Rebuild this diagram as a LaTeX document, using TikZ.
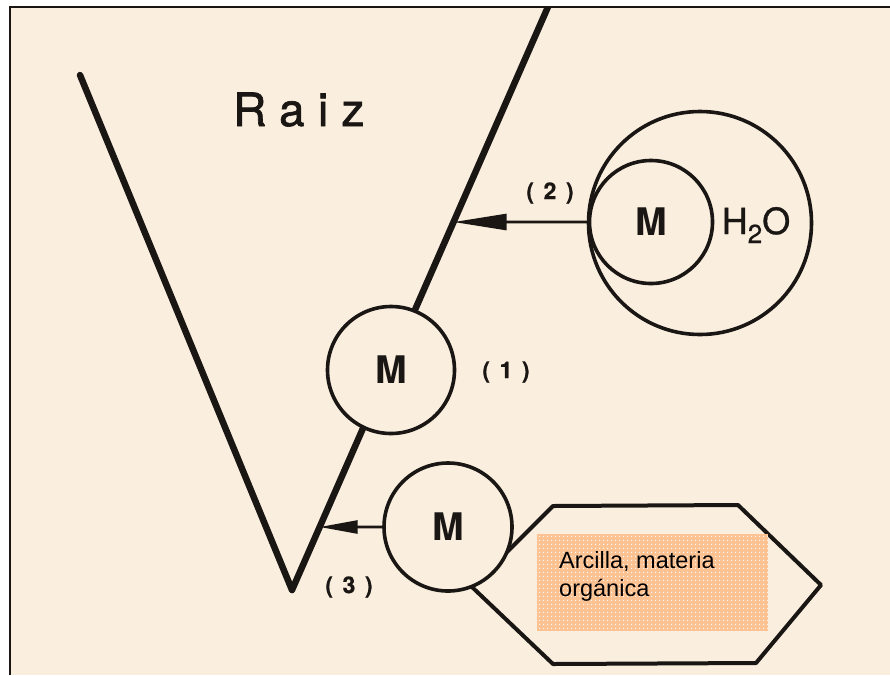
\documentclass[tikz,border=0pt]{standalone}
\usepackage{fontspec}
\setmainfont{TeX Gyre Heros}
\newfontfamily\raizfont[LetterSpace=29,FakeBold=1.4]{TeX Gyre Heros}
\newfontfamily\labfont[LetterSpace=14,FakeBold=0.6]{TeX Gyre Heros}
\newfontfamily\waterfont[FakeBold=0.8]{TeX Gyre Heros}
\newfontfamily\boxfont{Liberation Sans}
\usetikzlibrary{arrows.meta,patterns.meta,calc}
\definecolor{bg}{RGB}{250,238,222}
\definecolor{ink}{RGB}{26,22,20}
\definecolor{claycol}{RGB}{252,194,146}
\tikzdeclarepattern{
  name=wdots,
  type=uncolored,
  bounding box={(-2pt,-2pt) and (2pt,2pt)},
  tile size={(4pt,4pt)},
  code={\pgfpathcircle{\pgfpointorigin}{0.75pt}\pgfusepath{fill}}
}
\begin{document}
\begin{tikzpicture}[x=1pt,y=-1pt,
  arm/.style={draw=ink,line width=6.5pt,line cap=round,line join=round},
  ring/.style={circle,draw=ink,line width=3.6pt,fill=bg,inner sep=0pt},
  mlabel/.style={font=\fontsize{38}{44}\selectfont\bfseries,text=ink},
  ptr/.style={draw=ink,line width=2.6pt},
  numlab/.style={font=\labfont\bfseries\fontsize{23}{26}\selectfont,text=ink},
]
\useasboundingbox (0,0) rectangle (890,675);
\fill[white] (0,0) rectangle (890,675);
\fill[bg] (10,7) rectangle (890,675);
\draw[ink,line width=2pt] (10,675) -- (10,7) -- (890,7);

% root (V shape)
\coordinate (vtop) at (80,75);
\coordinate (vbot) at (292,590);
\coordinate (rtop) at (551,0);
\begin{scope}
  \clip (10,7) rectangle (890,675);
  \draw[arm] (vtop) -- (vbot) -- (rtop);
\end{scope}
\coordinate (a2) at ($(vbot)!0.6237!(rtop)$);
\coordinate (a3) at ($(vbot)!0.1068!(rtop)$);

% clay hexagon
\draw[ink,line width=4pt,line join=round] (553,506) -- (738,505) -- (821,585) -- (756,663) -- (553,664) -- (472,587) -- cycle;

% orange box
\node[fill=claycol, minimum width=231pt, minimum height=97pt, inner sep=0pt] (claybox) at (652.5,582.5) {};
\fill[pattern=wdots, pattern color=white] (claybox.south west) rectangle (claybox.north east);
\node[anchor=north west, align=left, inner sep=0pt, text=black,
      font=\boxfont\fontsize{23.5}{28}\selectfont] (claytxt) at (559,551) {Arcilla, materia\\orgánica};

% circles
\node[ring, minimum size=223pt] (big) at (700,223) {};
\node[ring, minimum size=123pt, mlabel] (m2) at (651,222) {M};
\node[anchor=base, text=ink, inner sep=0pt, font=\waterfont\fontsize{36}{40}\selectfont] (water) at (756,234)
  {H\raisebox{-9pt}{\fontsize{26}{26}\selectfont 2}O};
\node[ring, minimum size=127pt, mlabel] (m1) at (391,370) {M};
\node[ring, minimum size=128pt, mlabel] (m3) at (448,527) {M};

% arrows
\draw[ptr, -{Triangle[length=53pt,width=16pt]}] (m2.west) -- (a2);
\draw[ptr, -{Triangle[length=38pt,width=13pt]}] (m3.west) -- (a3);

% labels
\node[numlab] (l1) at (506,372) {( 1 )};
\node[numlab] (l2) at (550,193) {( 2 )};
\node[numlab] (l3) at (349,587) {( 3 )};
\node[anchor=base west, inner sep=0pt, text=ink, font=\raizfont\fontsize{46}{50}\selectfont] (raiz) at (233,126) {Raiz};
\end{tikzpicture}
\end{document}
